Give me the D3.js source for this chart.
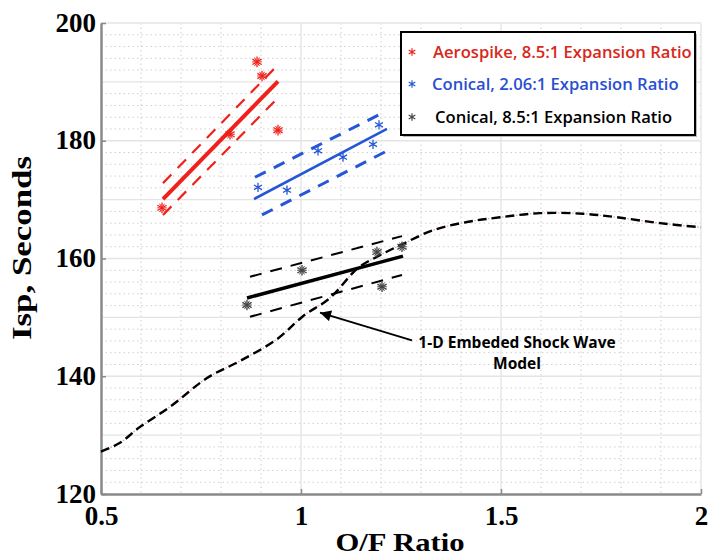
<!DOCTYPE html>
<html>
<head>
<meta charset="utf-8">
<script src="https://cdn.jsdelivr.net/npm/d3@7"></script>
<style>
	body { margin: 0; background: #fff; }
	svg { display: block; }
</style>
</head>
<body>
<div id="chart"></div>
<script>
// measured test points, [O/F, Isp]
const aerospikePoints = [[0.6525, 168.6], [0.8225, 181.1], [0.89, 193.4], [0.9025, 191.0], [0.9425, 181.8]];
const conical206Points = [[0.8925, 172.1], [0.965, 171.6], [1.0425, 178.3], [1.105, 177.2], [1.18, 179.4], [1.195, 182.7]];
const conical85Points = [[0.865, 152.1], [1.0025, 158.0], [1.19, 161.1], [1.2025, 155.2], [1.2525, 162.0]];

// fit lines and their bands
const aerospikeFit = [[0.655, 170.1], [0.9425, 190.1]];
const aerospikeUpper = [[0.655, 172.8], [0.9425, 192.9]];
const aerospikeLower = [[0.655, 167.4], [0.9425, 187.3]];
const conical206Fit = [[0.8825, 170.1], [1.215, 182.0]];
const conical206Upper = [[0.885, 173.8], [1.1975, 184.5]];
const conical206Lower = [[0.9025, 167.4], [1.21, 178.1]];
const conical85Fit = [[0.865, 153.3], [1.255, 160.4]];
const conical85Upper = [[0.8725, 156.9], [1.2525, 163.8]];
const conical85Lower = [[0.8725, 150.1], [1.2525, 157.2]];

// 1-D embedded shock wave model
const modelCurve = [
	[0.5, 127.2], [0.5475, 128.7], [0.5975, 131.4], [0.6725, 134.8], [0.765, 139.7],
	[0.8475, 142.6], [0.94, 146.3], [1.005, 150.2], [1.0725, 153.3], [1.1425, 158.4],
	[1.19, 160.3], [1.2525, 162.4], [1.33, 164.8], [1.415, 166.2], [1.4975, 167.0],
	[1.5975, 167.7], [1.705, 167.6], [1.79, 167.0], [1.8975, 166.0], [2.0, 165.3]
];

const xTicks = [0.5, 1, 1.5, 2];
const yTicks = [120, 140, 160, 180, 200];
const legendLabels = ['Aerospike, 8.5:1 Expansion Ratio', 'Conical, 2.06:1 Expansion Ratio', 'Conical, 8.5:1 Expansion Ratio'];
const annotationLines = ['1-D Embeded Shock Wave', 'Model'];
const annotationArrow = [[1.2775, 146.1], [1.0475, 150.8]];

const width = 712, height = 559;
const plotLeft = 101, plotRight = 701, plotTop = 23, plotBottom = 494;

const red = '#f0201a', blue = '#2456d6', black = '#000';
const serif = '"Liberation Serif", "Times New Roman", serif';

const x = d3.scaleLinear().domain([0.5, 2]).range([plotLeft, plotRight]);
const y = d3.scaleLinear().domain([120, 200]).range([plotBottom, plotTop]);

const svg = d3.select('#chart').append('svg')
	.attr('width', width)
	.attr('height', height);

// grid
const grid = svg.append('g');
grid.selectAll('.vminor')
	.data(d3.range(6, 20).filter((d)=>d % 5 != 0).map((d)=>d / 10))
	.enter().append('line')
	.attr('x1', (d)=>x(d)).attr('x2', (d)=>x(d))
	.attr('y1', plotTop).attr('y2', plotBottom)
	.attr('stroke', '#cfcfcf').attr('stroke-width', 1).attr('stroke-dasharray', '1.5,3');
grid.selectAll('.hminor')
	.data(d3.range(122, 200, 2).filter((d)=>d % 10 != 0))
	.enter().append('line')
	.attr('x1', plotLeft).attr('x2', plotRight)
	.attr('y1', (d)=>y(d)).attr('y2', (d)=>y(d))
	.attr('stroke', '#cfcfcf').attr('stroke-width', 1).attr('stroke-dasharray', '1.5,3');
grid.selectAll('.vmajor')
	.data([1, 1.5, 2])
	.enter().append('line')
	.attr('x1', (d)=>x(d)).attr('x2', (d)=>x(d))
	.attr('y1', plotTop).attr('y2', plotBottom)
	.attr('stroke', '#e4e4e4').attr('stroke-width', 1.3);
grid.selectAll('.hmajor')
	.data(d3.range(130, 201, 10))
	.enter().append('line')
	.attr('x1', plotLeft).attr('x2', plotRight)
	.attr('y1', (d)=>y(d)).attr('y2', (d)=>y(d))
	.attr('stroke', '#e4e4e4').attr('stroke-width', 1.3);

// axes
const xAxis = svg.append('g')
	.attr('transform', `translate(0,${plotBottom})`)
	.call(d3.axisBottom(x).tickValues(xTicks).tickSizeInner(-5).tickSizeOuter(0).tickPadding(15).tickFormat(d3.format('')));
const yAxis = svg.append('g')
	.attr('transform', `translate(${plotLeft},0)`)
	.call(d3.axisLeft(y).tickValues(yTicks).tickSizeInner(-5).tickSizeOuter(0).tickPadding(5));

[xAxis, yAxis].forEach(function(axis){
	axis.select('.domain').attr('stroke', '#8a8a8a').attr('stroke-width', 2.5);
	axis.selectAll('.tick line').attr('stroke', '#8a8a8a').attr('stroke-width', 1.5);
	axis.selectAll('.tick text')
		.attr('fill', '#000')
		.style('font-family', serif)
		.style('font-weight', 'bold')
		.style('font-size', '27px');
});
xAxis.selectAll('.tick text').attr('dy', '0.6em');
yAxis.selectAll('.tick text').attr('dy', '0.3em');

svg.append('text')
	.attr('x', 400).attr('y', 551)
	.attr('text-anchor', 'middle')
	.attr('textLength', 129).attr('lengthAdjust', 'spacingAndGlyphs')
	.style('font-family', serif)
	.style('font-weight', 'bold').style('font-size', '26px')
	.text('O/F Ratio');

svg.append('text')
	.attr('transform', 'translate(31,248) rotate(-90)')
	.attr('text-anchor', 'middle')
	.attr('textLength', 184).attr('lengthAdjust', 'spacingAndGlyphs')
	.style('font-family', serif)
	.style('font-weight', 'bold').style('font-size', '28px')
	.text('Isp, Seconds');

const line = d3.line().x((d)=>x(d[0])).y((d)=>y(d[1]));

// model curve: faint red under a black dashed line
const modelLine = d3.line().x((d)=>x(d[0])).y((d)=>y(d[1])).curve(d3.curveCatmullRom.alpha(0.5));
svg.append('path').datum(modelCurve)
	.attr('d', modelLine).attr('fill', 'none')
	.attr('stroke', '#f29a9a').attr('stroke-width', 1.2).attr('stroke-dasharray', '1.5,2');
svg.append('path').datum(modelCurve)
	.attr('d', modelLine).attr('fill', 'none')
	.attr('stroke', black).attr('stroke-width', 2.4).attr('stroke-dasharray', '9,5');

function drawSeries(pts, fit, upper, lower, color, fitWidth, bandWidth, markerColor, markerSize) {
	const g = svg.append('g');
	g.append('path').datum(fit).attr('d', line).attr('fill', 'none')
		.attr('stroke', color).attr('stroke-width', fitWidth);
	[upper, lower].forEach(function(band){
		g.append('path').datum(band).attr('d', line).attr('fill', 'none')
			.attr('stroke', color).attr('stroke-width', bandWidth).attr('stroke-dasharray', '12,9');
	});
	g.selectAll('.pt')
		.data(pts)
		.enter().append('path')
		.attr('transform', (d)=>`translate(${x(d[0])},${y(d[1])})`)
		.attr('d', d3.symbol().type(d3.symbolAsterisk).size(markerSize))
		.attr('fill', 'none')
		.attr('stroke', markerColor).attr('stroke-width', 1.3);
	if(markerColor != blue) {
		g.selectAll('.pt2')
			.data(pts)
			.enter().append('path')
			.attr('transform', (d)=>`translate(${x(d[0])},${y(d[1])}) rotate(90)`)
			.attr('d', d3.symbol().type(d3.symbolAsterisk).size(markerSize * 0.8))
			.attr('fill', 'none')
			.attr('stroke', markerColor).attr('stroke-width', 1);
	}
}

drawSeries(conical85Points, conical85Fit, conical85Upper, conical85Lower, black, 3.5, 2, '#444', 80);
drawSeries(conical206Points, conical206Fit, conical206Upper, conical206Lower, blue, 2.5, 3, blue, 60);
drawSeries(aerospikePoints, aerospikeFit, aerospikeUpper, aerospikeLower, red, 4, 2.2, red, 80);

// annotation
svg.append('defs').append('marker')
	.attr('id', 'arrowhead')
	.attr('viewBox', '0 0 10 10')
	.attr('refX', 10).attr('refY', 5)
	.attr('markerWidth', 7).attr('markerHeight', 5.5)
	.attr('markerUnits', 'strokeWidth')
	.attr('orient', 'auto')
	.append('path').attr('d', 'M0,0L10,5L0,10z').attr('fill', black);

svg.append('path').datum(annotationArrow)
	.attr('d', line).attr('fill', 'none')
	.attr('stroke', black).attr('stroke-width', 2)
	.attr('marker-end', 'url(#arrowhead)');

svg.append('g').selectAll('text')
	.data(annotationLines)
	.enter().append('text')
	.attr('x', 517)
	.attr('y', (d, i)=>348 + i * 21)
	.attr('text-anchor', 'middle')
	.style('font-family', '"Open Sans", sans-serif')
	.style('font-weight', 'bold').style('font-size', '15.5px')
	.text((d)=>d);

// legend
const legend = svg.append('g');
legend.append('rect')
	.attr('x', 403).attr('y', 34).attr('width', 294).attr('height', 103)
	.attr('fill', '#bbb');
legend.append('rect')
	.attr('x', 401).attr('y', 32).attr('width', 294).attr('height', 103)
	.attr('fill', '#fff').attr('stroke', black).attr('stroke-width', 2);

const legendColors = [red, blue, black];
const legendRows = legend.selectAll('.row')
	.data(legendLabels)
	.enter().append('g')
	.attr('transform', (d, i)=>`translate(0,${[52, 84, 117][i]})`);
legendRows.append('path')
	.attr('transform', 'translate(412,0)')
	.attr('d', d3.symbol().type(d3.symbolAsterisk).size(40))
	.attr('fill', 'none')
	.attr('stroke', (d, i)=>i == 2 ? '#444' : legendColors[i]).attr('stroke-width', 1.2);
legendRows.append('text')
	.attr('x', (d, i)=>[433, 432, 435][i])
	.attr('y', 0)
	.attr('dy', '0.36em')
	.attr('fill', (d, i)=>[ '#d8281a', '#2a4fd0', '#000'][i])
	.style('font-family', '"Open Sans", sans-serif')
	.style('font-weight', 600)
	.style('font-size', '16.6px')
	.text((d)=>d);
</script>
</body>
</html>
